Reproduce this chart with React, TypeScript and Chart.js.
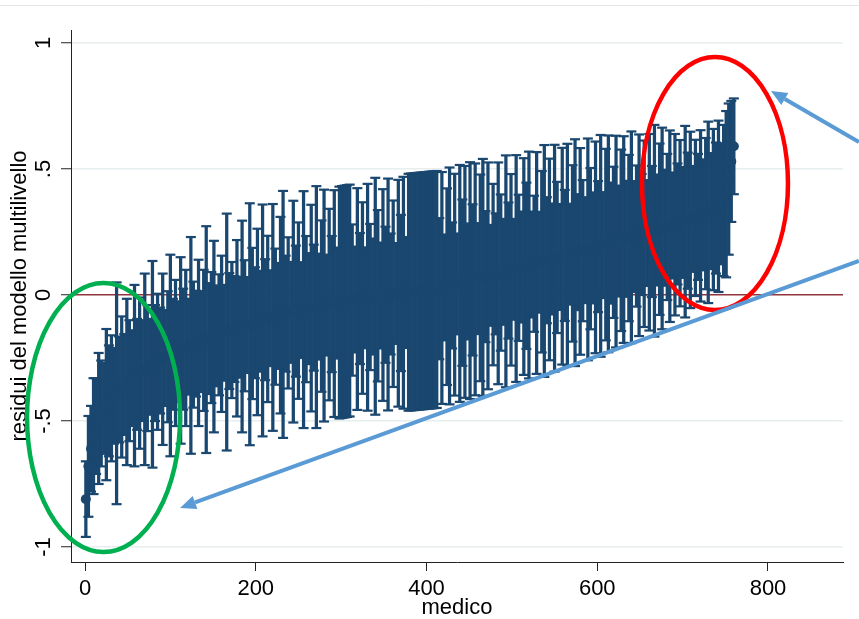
import React, { useEffect, useRef } from "react";
import { Chart, registerables } from "chart.js";

Chart.register(...registerables);

// Residui (stime puntuali ordinate) per medico (un medico ogni tre)
const stima: number[] = [
  -0.81, -0.68, -0.61, -0.56, -0.52, -0.49, -0.47, -0.45, -0.435, -0.42,
  -0.41, -0.40, -0.39, -0.375, -0.365, -0.355, -0.345, -0.34, -0.33, -0.32,
  -0.315, -0.31, -0.30, -0.295, -0.29, -0.285, -0.275, -0.27, -0.265, -0.26,
  -0.255, -0.25, -0.245, -0.24, -0.235, -0.23, -0.225, -0.22, -0.215, -0.21,
  -0.205, -0.20, -0.197, -0.193, -0.19, -0.185, -0.18, -0.177, -0.173, -0.169,
  -0.165, -0.162, -0.158, -0.154, -0.15, -0.147, -0.143, -0.139, -0.135, -0.132,
  -0.128, -0.125, -0.122, -0.119, -0.116, -0.113, -0.11, -0.107, -0.104, -0.101,
  -0.098, -0.095, -0.092, -0.089, -0.086, -0.083, -0.08, -0.077, -0.074, -0.071,
  -0.069, -0.066, -0.064, -0.062, -0.06, -0.058, -0.056, -0.054, -0.052, -0.05,
  -0.048, -0.046, -0.044, -0.042, -0.04, -0.038, -0.036, -0.034, -0.032, -0.03,
  -0.028, -0.026, -0.024, -0.022, -0.02, -0.018, -0.016, -0.014, -0.012, -0.011,
  -0.009, -0.008, -0.006, -0.005, -0.003, -0.002, 0.0, 0.001, 0.002, 0.004,
  0.005, 0.006, 0.007, 0.008, 0.009, 0.01, 0.011, 0.012, 0.013, 0.014,
  0.015, 0.016, 0.017, 0.018, 0.019, 0.02, 0.021, 0.022, 0.025, 0.028,
  0.03, 0.033, 0.036, 0.038, 0.041, 0.044, 0.046, 0.049, 0.052, 0.054,
  0.057, 0.06, 0.062, 0.065, 0.068, 0.07, 0.073, 0.076, 0.078, 0.081,
  0.084, 0.086, 0.089, 0.092, 0.094, 0.097, 0.1, 0.102, 0.105, 0.108,
  0.111, 0.113, 0.116, 0.119, 0.121, 0.124, 0.127, 0.13, 0.132, 0.135,
  0.138, 0.141, 0.143, 0.146, 0.149, 0.151, 0.154, 0.157, 0.16, 0.162,
  0.165, 0.168, 0.17, 0.173, 0.176, 0.178, 0.181, 0.184, 0.187, 0.189,
  0.192, 0.195, 0.198, 0.2, 0.203, 0.206, 0.209, 0.212, 0.214, 0.217,
  0.22, 0.223, 0.226, 0.229, 0.232, 0.234, 0.237, 0.24, 0.243, 0.246,
  0.249, 0.252, 0.255, 0.258, 0.261, 0.264, 0.267, 0.27, 0.273, 0.276,
  0.279, 0.282, 0.285, 0.288, 0.291, 0.295, 0.298, 0.302, 0.306, 0.31,
  0.314, 0.318, 0.323, 0.328, 0.333, 0.339, 0.345, 0.352, 0.362, 0.375,
  0.40, 0.46, 0.53, 0.59,
];

// Semi-ampiezza dell'intervallo di confidenza per ciascun medico
const semiAmpiezza: number[] = [
  0.15, 0.20, 0.17, 0.23, 0.19, 0.26, 0.21, 0.18, 0.30, 0.22,
  0.25, 0.19, 0.44, 0.21, 0.28, 0.20, 0.33, 0.24, 0.19, 0.36,
  0.22, 0.30, 0.20, 0.38, 0.25, 0.19, 0.41, 0.23, 0.27, 0.21,
  0.34, 0.19, 0.26, 0.40, 0.22, 0.29, 0.20, 0.37, 0.24, 0.31,
  0.19, 0.43, 0.25, 0.21, 0.33, 0.20, 0.28, 0.45, 0.22, 0.26,
  0.38, 0.20, 0.24, 0.31, 0.19, 0.47, 0.23, 0.27, 0.21, 0.35,
  0.20, 0.42, 0.26, 0.19, 0.48, 0.30, 0.22, 0.37, 0.20, 0.46,
  0.24, 0.33, 0.19, 0.45, 0.27, 0.21, 0.39, 0.49, 0.23, 0.30,
  0.20, 0.44, 0.26, 0.35, 0.19, 0.47, 0.29, 0.22, 0.41, 0.25,
  0.48, 0.21, 0.34, 0.46, 0.20, 0.38, 0.27, 0.45, 0.22, 0.46,
  0.46, 0.46, 0.46, 0.46, 0.30, 0.21, 0.44, 0.26, 0.38, 0.20,
  0.45, 0.29, 0.23, 0.47, 0.34, 0.21, 0.42, 0.27, 0.46, 0.24,
  0.37, 0.20, 0.45, 0.31, 0.46, 0.22, 0.47, 0.47, 0.47, 0.47,
  0.47, 0.47, 0.47, 0.47, 0.47, 0.47, 0.47, 0.47, 0.28, 0.46,
  0.21, 0.39, 0.47, 0.25, 0.44, 0.20, 0.47, 0.33, 0.46, 0.23,
  0.47, 0.30, 0.46, 0.22, 0.41, 0.47, 0.26, 0.45, 0.20, 0.36,
  0.24, 0.44, 0.31, 0.21, 0.46, 0.27, 0.38, 0.20, 0.45, 0.29,
  0.22, 0.43, 0.33, 0.45, 0.21, 0.27, 0.44, 0.20, 0.36, 0.46,
  0.25, 0.40, 0.22, 0.45, 0.30, 0.21, 0.43, 0.26, 0.44, 0.20,
  0.35, 0.45, 0.23, 0.41, 0.28, 0.21, 0.44, 0.32, 0.22, 0.42,
  0.26, 0.44, 0.21, 0.38, 0.43, 0.24, 0.30, 0.42, 0.22, 0.36,
  0.41, 0.23, 0.33, 0.42, 0.22, 0.28, 0.40, 0.24, 0.37, 0.21,
  0.39, 0.26, 0.42, 0.22, 0.34, 0.40, 0.23, 0.29, 0.38, 0.21,
  0.36, 0.24, 0.33, 0.22, 0.38, 0.27, 0.35, 0.21, 0.31, 0.25,
  0.34, 0.22, 0.30, 0.36, 0.23, 0.32, 0.26, 0.34, 0.24, 0.30,
  0.33, 0.30, 0.24, 0.19,
];

// rango del medico (uno ogni tre)
const PASSO_RANGO = 3;
const medico: number[] = stima.map((_, i) => 1 + PASSO_RANGO * i);

const xTicks = [0, 200, 400, 600, 800];
const xTickLabels = ["0", "200", "400", "600", "800"];
const yTicks = [-1, -0.5, 0, 0.5, 1];
const yTickLabels = ["-1", "-.5", "0", ".5", "1"];
const xTitle = "medico";
const yTitle = "residui del modello multilivello";

const X_MIN = -16.4;
const X_MAX = 887.85;
const Y_MIN = -1.0595;
const Y_MAX = 1.0516;

const NAVY = "#1a476f";
const MAROON = "#90353b";
const GRID = "#e8eef0";
const AXIS = "#222222";
const BLUE = "#5b9bd5";
const FONT = '22px "Liberation Sans", Arial, Helvetica, sans-serif';

// annotazioni (in unità dei dati)
const ellisseVerde = { cx: 21.7, cy: -0.486, rx: 89.6, ry: 0.534, color: "#00b050" };
const ellisseRossa = { cx: 737.9, cy: 0.4425, rx: 85.5, ry: 0.502, color: "#ff0000" };
const frecce = [
  { x0: 906.5, y0: 0.607, x1: 803.5, y1: 0.81 },
  { x0: 906.5, y0: 0.135, x1: 111.3, y1: -0.845 },
];

const overlayPlugin = {
  id: "overlay",
  afterDraw(chart: any) {
    const ctx: CanvasRenderingContext2D = chart.ctx;
    const xs = chart.scales.x;
    const ys = chart.scales.y;
    const area = chart.chartArea;
    ctx.save();

    ctx.strokeStyle = "#e6e6e6";
    ctx.lineWidth = 1;
    ctx.beginPath();
    ctx.moveTo(0, 5.5);
    ctx.lineTo(chart.width, 5.5);
    ctx.stroke();

    ctx.fillStyle = "#000";
    ctx.font = FONT;
    ctx.textAlign = "center";
    ctx.textBaseline = "middle";
    xTicks.forEach((v, i) => {
      ctx.fillText(xTickLabels[i], xs.getPixelForValue(v), 589);
    });
    ctx.fillText(xTitle, (area.left + area.right) / 2, 608);
    yTicks.forEach((v, i) => {
      ctx.save();
      ctx.translate(43.5, ys.getPixelForValue(v));
      ctx.rotate(-Math.PI / 2);
      ctx.fillText(yTickLabels[i], 0, 0);
      ctx.restore();
    });
    ctx.save();
    ctx.translate(20, (area.top + area.bottom) / 2);
    ctx.rotate(-Math.PI / 2);
    ctx.fillText(yTitle, 0, 0);
    ctx.restore();

    const drawEllipse = (e: any) => {
      const cx = xs.getPixelForValue(e.cx);
      const cy = ys.getPixelForValue(e.cy);
      const rx = Math.abs(xs.getPixelForValue(e.cx + e.rx) - cx);
      const ry = Math.abs(ys.getPixelForValue(e.cy + e.ry) - cy);
      ctx.beginPath();
      ctx.ellipse(cx, cy, rx, ry, 0, 0, Math.PI * 2);
      ctx.strokeStyle = e.color;
      ctx.lineWidth = 4.5;
      ctx.stroke();
    };
    drawEllipse(ellisseVerde);
    drawEllipse(ellisseRossa);

    frecce.forEach((a) => {
      const x0 = xs.getPixelForValue(a.x0);
      const y0 = ys.getPixelForValue(a.y0);
      const x1 = xs.getPixelForValue(a.x1);
      const y1 = ys.getPixelForValue(a.y1);
      const ang = Math.atan2(y1 - y0, x1 - x0);
      const L = 16;
      const W = 7;
      const c = Math.cos(ang);
      const s = Math.sin(ang);
      const bx = x1 - L * c;
      const by = y1 - L * s;
      ctx.beginPath();
      ctx.moveTo(x0, y0);
      ctx.lineTo(bx, by);
      ctx.strokeStyle = BLUE;
      ctx.lineWidth = 4;
      ctx.stroke();
      ctx.beginPath();
      ctx.moveTo(x1, y1);
      ctx.lineTo(bx + W * s, by - W * c);
      ctx.lineTo(bx - W * s, by + W * c);
      ctx.closePath();
      ctx.fillStyle = BLUE;
      ctx.fill();
    });

    ctx.restore();
  },
};

export default function App() {
  const canvasRef = useRef<HTMLCanvasElement | null>(null);

  useEffect(() => {
    if (!canvasRef.current) return;
    const lo = medico.map((m, i) => ({ x: m, y: stima[i] - semiAmpiezza[i] }));
    const hi = medico.map((m, i) => ({ x: m, y: stima[i] + semiAmpiezza[i] }));
    const chart = new Chart(canvasRef.current, {
      type: "scatter",
      data: {
        datasets: [
          {
            type: "scatter",
            label: "residuo",
            data: medico.map((m, i) => ({ x: m, y: stima[i] })),
            pointRadius: 5,
            pointBackgroundColor: NAVY,
            backgroundColor: NAVY,
            pointBorderWidth: 0,
            borderWidth: 0,
            order: 0,
          } as any,
          {
            type: "scatter",
            label: "cap",
            data: [...lo, ...hi],
            pointStyle: "line",
            pointRadius: 5,
            borderColor: NAVY,
            pointBorderColor: NAVY,
            pointBorderWidth: 2.2,
            borderWidth: 2.2,
            order: 1,
          } as any,
          {
            type: "bar",
            label: "IC",
            data: medico.map((m, i) => ({
              x: m,
              y: [stima[i] - semiAmpiezza[i], stima[i] + semiAmpiezza[i]],
            })),
            backgroundColor: NAVY,
            borderWidth: 0,
            barThickness: 2.6,
            order: 2,
          } as any,
        ],
      },
      options: {
        animation: false,
        responsive: false,
        devicePixelRatio: 1,
        events: [],
        layout: { padding: { top: 30, right: 16, left: 0, bottom: 0 } },
        plugins: {
          legend: { display: false },
          tooltip: { enabled: false },
          title: { display: false },
        },
        scales: {
          x: {
            type: "linear",
            min: X_MIN,
            max: X_MAX,
            offset: false,
            bounds: "data",
            afterBuildTicks: (s: any) => {
              s.ticks = xTicks.map((v) => ({ value: v }));
            },
            afterFit: (s: any) => {
              s.height = 57;
            },
            ticks: { display: false },
            grid: {
              offset: false,
              drawOnChartArea: false,
              drawTicks: true,
              tickLength: 9,
              tickColor: AXIS,
              tickWidth: 1,
            },
            border: { display: true, color: AXIS, width: 1 },
          },
          y: {
            type: "linear",
            min: Y_MIN,
            max: Y_MAX,
            bounds: "data",
            afterBuildTicks: (s: any) => {
              s.ticks = yTicks.map((v) => ({ value: v }));
            },
            afterFit: (s: any) => {
              s.width = 71;
            },
            ticks: { display: false },
            grid: {
              offset: false,
              color: (c: any) => (c.tick && c.tick.value === 0 ? MAROON : GRID),
              lineWidth: 1.5,
              drawTicks: true,
              tickLength: 10,
              tickColor: AXIS,
              tickWidth: 1,
            },
            border: { display: true, color: AXIS, width: 1 },
          },
        },
      } as any,
      plugins: [overlayPlugin],
    });
    return () => chart.destroy();
  }, []);

  return (
    <div style={{ position: "absolute", left: 0, top: 0, width: 859, height: 619, background: "#fff" }}>
      <canvas ref={canvasRef} width={859} height={619} style={{ display: "block" }} />
    </div>
  );
}
